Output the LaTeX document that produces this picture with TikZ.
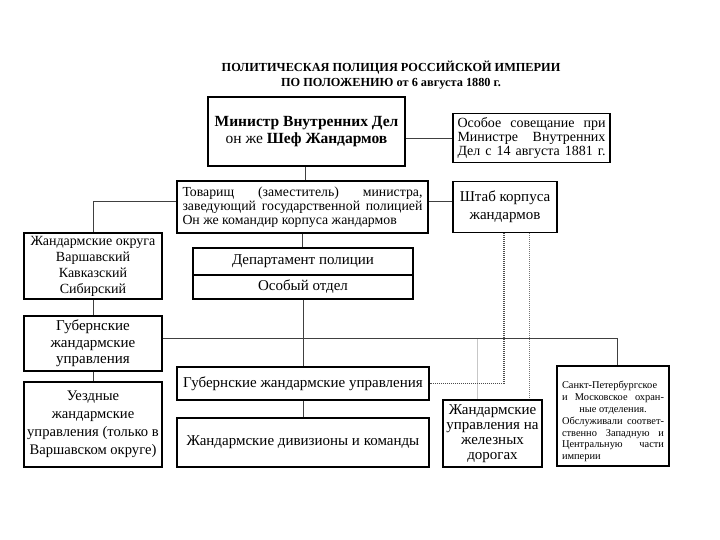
\documentclass[tikz,border=0pt]{standalone}
\usepackage{fontspec}
\setmainfont{Liberation Serif}
\newcommand\jl[2]{\makebox[#1][s]{#2}}
\begin{document}
\begin{tikzpicture}[x=1pt,y=-1pt,
  box/.style={draw, line width=1.6pt, inner sep=0pt, align=center,
    font=\fontsize{15}{17}\selectfont},
  conn/.style={draw=black!75, line width=0.8pt},
  dotA/.style={draw=black!70, line width=1.3pt, dash pattern=on 1pt off 1pt},
  dotB/.style={draw=black!55, line width=0.8pt, dash pattern=on 1pt off 1pt},
  lite/.style={draw=black!22, line width=0.8pt}]
\useasboundingbox (0,0) rectangle (720,540);

\node[font=\bfseries\fontsize{12.3}{15}\selectfont, align=center] (title) at (391,75.5)
  {ПОЛИТИЧЕСКАЯ ПОЛИЦИЯ РОССИЙСКОЙ ИМПЕРИИ\\ПО ПОЛОЖЕНИЮ от 6 августа 1880 г.};

\node[box, line width=2.6pt, minimum width=197pt, minimum height=69pt,
  font=\fontsize{15.5}{17}\selectfont] (min) at (306.5,131.5)
  {\textbf{Министр Внутренних Дел}\\он же \textbf{Шеф Жандармов}};

\node[box, minimum width=157pt, minimum height=49pt, font=\fontsize{14}{13.8}\selectfont] (osob) at (531.5,138)
  {\jl{148pt}{Особое совещание при}\\\jl{148pt}{Министре Внутренних}\\\jl{148pt}{Дел с 14 августа 1881 г.}};

\node[box, minimum width=251pt, minimum height=52pt, font=\fontsize{13.8}{14.2}\selectfont] (tov) at (302.5,207)
  {\jl{240pt}{Товарищ (заместитель) министра,}\\\jl{240pt}{заведующий государственной полицией}\\\makebox[240pt][l]{Он же командир корпуса жандармов}};

\node[box, minimum width=104pt, minimum height=51pt, font=\fontsize{15}{18}\selectfont] (shtab) at (505,207)
  {Штаб корпуса\\жандармов};

\node[box, minimum width=138pt, minimum height=66pt, font=\fontsize{14}{16}\selectfont] (okr) at (93,266)
  {Жандармские округа\\Варшавский\\Кавказский\\Сибирский};

\node[box, line width=1.3pt, minimum width=220pt, minimum height=27pt] (dep1) at (303,261.5)
  {Департамент полиции};
\node[box, line width=1.3pt, minimum width=220pt, minimum height=24pt] (dep2) at (303,287)
  {Особый отдел};

\node[box, minimum width=138pt, minimum height=55pt, font=\fontsize{15}{16.5}\selectfont] (gubL) at (93,343.5)
  {Губернские\\жандармские\\управления};

\node[box, minimum width=138pt, minimum height=85pt, font=\fontsize{14.6}{18}\selectfont] (uezd) at (93,424.5)
  {Уездные\\жандармские\\управления (только в\\Варшавском округе)};

\node[box, minimum width=252pt, minimum height=33pt] (gubC) at (303,383.5)
  {Губернские жандармские управления};

\node[box, minimum width=252pt, minimum height=49pt] (div) at (303,442.5)
  {Жандармские дивизионы и команды};

\node[box, minimum width=99pt, minimum height=67pt, font=\fontsize{15}{14.8}\selectfont] (zhel) at (492.5,433.5)
  {Жандармские\\управления на\\железных\\дорогах};

\node[box, minimum width=112pt, minimum height=100pt, font=\fontsize{10.4}{11.8}\selectfont] (spb) at (613,416)
  {\rule{0pt}{19pt}\jl{102pt}{Санкт-Петербургское}\\\jl{102pt}{и Московское охран-}\\ные отделения.\\\jl{102pt}{Обслуживали соответ-}\\\jl{102pt}{ственно Западную и}\\\jl{102pt}{Центральную части}\\\makebox[102pt][l]{империи}};

% connectors
\draw[conn] (min.east |- osob.west) -- (osob.west);
\draw[conn] ([xshift=-1.5pt]min.south) -- ([xshift=-1.5pt]min.south |- tov.north);
\draw[conn] ([yshift=6pt]tov.east) -- ([yshift=6pt]shtab.west);
\draw[conn] ([yshift=6pt]tov.west) -| (okr.north);
\draw[conn] (tov.south) -- (tov.south |- dep1.north);
\draw[conn] (okr.south) -- (gubL.north);
\draw[conn] (gubL.south) -- (uezd.north);
\draw[conn] (dep2.south) -- (dep2.south |- gubC.north);
\draw[conn] (gubC.south) -- (div.north);
\coordinate (hr) at (617,338);
\coordinate (hz) at (477,338);
\draw[lite] (hz) -- (hz |- zhel.north);
\draw[conn] (gubL.east |- hr) -- (hr) -- (hr |- spb.north);
\draw[dotA] ([xshift=-1pt]shtab.south) |- (gubC.east);
\draw[dotB] ([xshift=24pt]shtab.south) -- ([xshift=24pt]shtab.south |- zhel.north);
\end{tikzpicture}
\end{document}
